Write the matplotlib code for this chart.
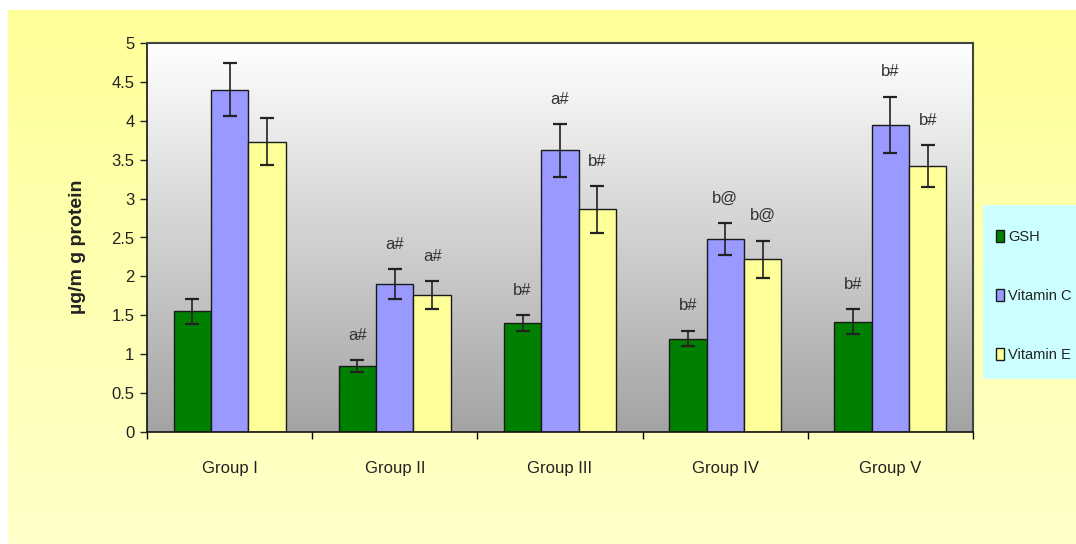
import numpy as np
import matplotlib
matplotlib.use("Agg")
import matplotlib.pyplot as plt
from matplotlib.patches import Rectangle

plt.rcParams["font.family"] = ["Liberation Sans Narrow", "Liberation Sans", "DejaVu Sans"]

groups = ["Group I", "Group II", "Group III", "Group IV", "Group V"]
series = ["GSH", "Vitamin C", "Vitamin E"]

gsh = [1.55, 0.85, 1.40, 1.20, 1.42]
vit_c = [4.40, 1.90, 3.62, 2.48, 3.95]
vit_e = [3.73, 1.76, 2.86, 2.22, 3.42]

gsh_err = [0.16, 0.075, 0.10, 0.10, 0.16]
vit_c_err = [0.34, 0.19, 0.34, 0.20, 0.36]
vit_e_err = [0.30, 0.18, 0.30, 0.24, 0.27]

gsh_sig = ["", "a#", "b#", "b#", "b#"]
vit_c_sig = ["", "a#", "a#", "b@", "b#"]
vit_e_sig = ["", "a#", "b#", "b@", "b#"]

colors = ["#008000", "#9999FF", "#FFFF99"]

W, H = 1076, 544
fig = plt.figure(figsize=(W / 100, H / 100), dpi=100, facecolor="white")

# pale yellow backdrop, slightly deeper at the top
bg = fig.add_axes([8 / W, 0, 1 - 8 / W, 1 - 10 / H])
bg.axis("off")
grad = np.linspace(0, 1, 256)[:, None]
top = np.array([1.0, 1.0, 0.60])
bot = np.array([1.0, 1.0, 0.79])
img = top[None, None, :] * (1 - grad[..., None]) + bot[None, None, :] * grad[..., None]
bg.imshow(img, aspect="auto", extent=[0, 1, 0, 1])
bg.set_xlim(0, 1)
bg.set_ylim(0, 1)

ax = fig.add_axes([147 / W, (H - 432) / H, 826 / W, 389 / H])
ax.set_xlim(0, 5)
ax.set_ylim(0, 5)

# white-to-grey wall behind the bars
wall = np.linspace(1.0, 0.64, 256)[:, None] * np.ones((1, 2))
ax.imshow(np.dstack([wall] * 3), aspect="auto", extent=[0, 5, 0, 5],
          zorder=0)

x = np.arange(len(groups)) + 0.5
bw = 0.226
vals = [gsh, vit_c, vit_e]
errs = [gsh_err, vit_c_err, vit_e_err]
sigs = [gsh_sig, vit_c_sig, vit_e_sig]

for i, (v, e, s, c, name) in enumerate(zip(vals, errs, sigs, colors, series)):
    xs = x + (i - 1) * bw
    ax.bar(xs, v, bw, color=c, edgecolor="#1a1a1a", linewidth=1.0,
           label=name, zorder=2)
    ax.errorbar(xs, v, yerr=e, fmt="none", ecolor="#222222", elinewidth=1.2,
                capsize=5, capthick=1.6, zorder=3)
    for xi, vi, ei, t in zip(xs, v, e, s):
        if t:
            ax.text(xi, vi + ei + 0.32, t, ha="center", va="center",
                    fontsize=12, color="#333333", zorder=4)

ax.set_yticks(np.arange(0, 5.01, 0.5))
ax.set_yticklabels(["0", "0.5", "1", "1.5", "2", "2.5", "3", "3.5", "4",
                    "4.5", "5"])
ax.tick_params(axis="y", direction="out", length=5, width=1, pad=4,
               labelsize=12, colors="#222222")

ax.set_xticks(np.arange(0, 5.01, 1))
ax.set_xticklabels([])
ax.set_xticks(x, minor=True)
ax.set_xticklabels(groups, minor=True)
ax.tick_params(axis="x", which="major", direction="out", length=5, width=1)
ax.tick_params(axis="x", which="minor", length=0, pad=21, labelsize=12,
               colors="#222222")

for side in ["left", "bottom"]:
    ax.spines[side].set_color("#111111")
    ax.spines[side].set_linewidth(1.2)
for side in ["top", "right"]:
    ax.spines[side].set_color("#444444")
    ax.spines[side].set_linewidth(1.5)

fig.text(78 / W, 1 - 247 / H, "\u00b5g/m g protein", rotation=90,
         ha="center", va="center", fontsize=14, fontweight="bold",
         color="#222222", family=["Liberation Sans", "DejaVu Sans"])

# legend panel
fig.patches.append(Rectangle((983 / W, 1 - 379 / H), (W - 983) / W, 174 / H,
                             transform=fig.transFigure, facecolor="#CCFFFF",
                             edgecolor="none", zorder=1))
handles, labels = ax.get_legend_handles_labels()
leg = fig.legend(handles, labels, loc="center left",
                 bbox_to_anchor=(990 / W, 1 - 296 / H), frameon=False,
                 fontsize=10.5, handlelength=0.55, handleheight=0.9,
                 handletextpad=0.3, labelspacing=3.1, borderaxespad=0)
for t in leg.get_texts():
    t.set_color("#222222")

fig.savefig("out.png", dpi=100, facecolor="white")
